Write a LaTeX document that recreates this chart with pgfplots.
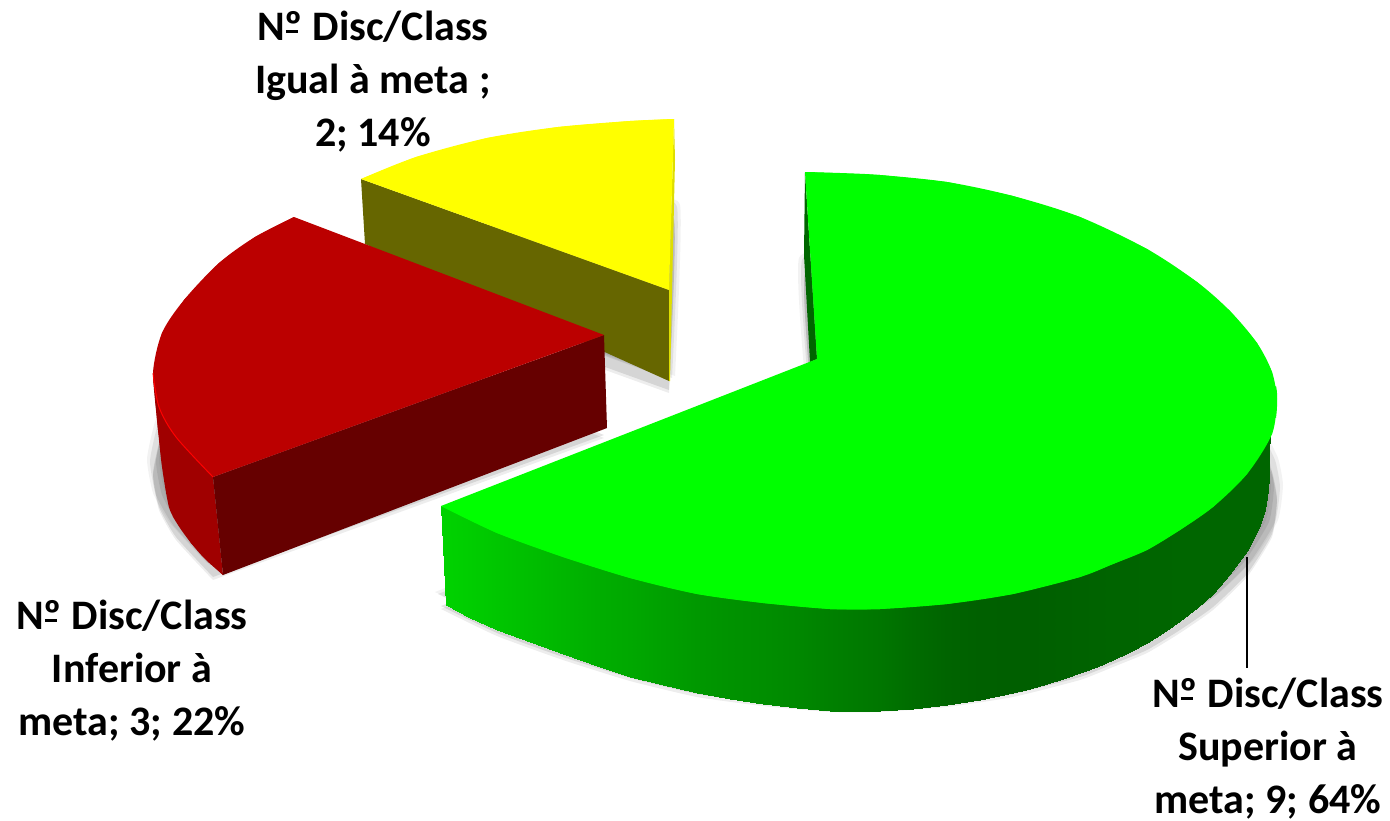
\documentclass[border=0pt]{standalone}
\usepackage{pgfplots}
\usepackage{pgfplotstable}
\usepackage{fontspec}
\setmainfont{Carlito}
\pgfplotsset{compat=1.18}
\definecolor{yy}{RGB}{255,255,0}
\definecolor{gg}{RGB}{0,255,0}
\definecolor{olv}{RGB}{102,102,0}
\definecolor{ysl}{RGB}{222,222,0}
\definecolor{rtop}{RGB}{187,0,0}
\definecolor{rside}{RGB}{160,0,0}
\definecolor{rdark}{RGB}{102,0,0}
\definecolor{gback}{RGB}{0,102,0}
% --- green top face: whole outline and its three arcs
\pgfplotstableread{
x y
817 359
805 172
880 175
947 182
1013 196
1080 217
1147 249
1197 282
1230 311
1257 343
1272 372
1277 399
1272 434
1247 474
1213 507
1180 530
1147 550
1113 564
1080 577
1013 594
947 604
880 609
830 609
763 603
697 594
630 578
563 557
497 533
441 506
}\greenface
\pgfplotstableread{
x y
805 172
840 173
880 175
947 182
1013 196
1080 217
1147 249
1197 282
1230 311
1257 343
1272 372
1277 399
1276 418
}\greenarcA
\pgfplotstableread{
x y
1276 386
1277 399
1272 434
1247 474
1213 507
1180 530
1147 550
1113 564
1080 577
1013 594
947 604
880 609
830 609
}\greenarcB
\pgfplotstableread{
x y
880 609
830 609
763 603
697 594
630 578
563 557
497 533
441 506
}\greenarcC
\pgfplotstableread{
x y c
441 506 210
446 605 210
470 512 205
470 618 205
497 525 198
497 630 198
530 538 190
530 642 190
563 549 182
563 654 182
597 560 174
597 666 174
630 570 168
630 677 168
663 578 160
663 685 160
697 586 152
697 693 152
730 591 146
730 699 146
763 595 142
763 704 142
797 599 136
797 708 136
830 601 128
830 711 128
880 601 118
880 711 118
913 599 108
913 709 108
947 596 100
947 705 100
980 592 96
980 700 96
1013 586 95
1013 693 95
1030 582 95
1030 689 95
1047 578 96
1047 684 96
1063 574 97
1063 679 97
1080 568 98
1080 673 98
1097 562 99
1097 667 99
1113 555 100
1113 660 100
1130 548 100
1130 652 100
1147 540 101
1147 643 101
1163 530 101
1163 633 101
1180 519 102
1180 621 102
1197 508 102
1197 608 102
1213 497 102
1213 594 102
1230 482 102
1230 574 102
1247 464 102
1247 551 102
1254 456 102
1254 538 102
1260 447 102
1260 525 102
1265 437 102
1265 510 102
1270 428 102
1268 490 102
1270 399 102
1269 476 102
}\greenside
\pgfplotstableread{
x y
805 172
817 359
810 362
804 255
}\greenback
% --- red slice
\pgfplotstableread{
x y
604 335
294 217
255 237
219 263
184 300
162 333
153 373
159 407
176 437
213 477
}\redface
\pgfplotstableread{
x y
294 217
255 237
219 263
184 300
162 333
153 373
159 407
176 437
213 477
}\redarc
\pgfplotstableread{
x y
153 373
154 390
158 430
162 467
169 507
178 525
191 543
205 559
223 575
}\redsidearc
\pgfplotstableread{
x y
153 373
158 430
169 507
191 543
223 575
213 477
}\redsidecore
\pgfplotstableread{
x y
604 335
607 428
223 575
213 477
}\reddark
\pgfplotstableread{
x y
153 373
159 407
176 437
213 477
}\rededge
% --- yellow slice
\pgfplotstableread{
x y
361 179
416 157
487 138
558 127
630 121
674 119
669 290
}\yellowface
\pgfplotstableread{
x y
361 179
416 157
487 138
558 127
630 121
674 119
}\yellowarc
\pgfplotstableread{
x y
361 179
669 290
669 381
365 244
}\yellowdark
\pgfplotstableread{
x y
674 119
675 160
670 381
669 381
669 290
}\yellowsliver
\pgfplotstableread{
x y
1247 557
1247 668
}\leader
\newcommand{\shadow}[1]{%
  \addplot[smooth,tension=.3,fill=black,draw=none,fill opacity=.07] table[x expr=\thisrow{x},y expr=\thisrow{y}+103] {#1};
  \addplot[smooth,tension=.3,fill=black,draw=none,fill opacity=.10] table[x expr=\thisrow{x},y expr=\thisrow{y}+100] {#1};
  \addplot[smooth,tension=.3,fill=black,draw=none,fill opacity=.05] table[x expr=\thisrow{x}-6,y expr=\thisrow{y}+86] {#1};
  \addplot[smooth,tension=.3,fill=black,draw=none,fill opacity=.08] table[x expr=\thisrow{x}-3,y expr=\thisrow{y}+88] {#1};
  \addplot[smooth,tension=.3,fill=black,draw=none,fill opacity=.05] table[x expr=\thisrow{x}+6,y expr=\thisrow{y}+86] {#1};
  \addplot[smooth,tension=.3,fill=black,draw=none,fill opacity=.08] table[x expr=\thisrow{x}+3,y expr=\thisrow{y}+88] {#1};
}
\newcommand{\Nr}{N\makebox[0pt][l]{\hspace{0.02em}\raisebox{0.19em}{\rule{0.3em}{0.065em}}}º}
\begin{document}
\begin{tikzpicture}
\begin{axis}[
  scale only axis, width=1390pt, height=820pt,
  xmin=0, xmax=1390, ymin=0, ymax=820, y dir=reverse,
  hide axis, clip=true,
  colormap={gmap}{rgb255=(0,0,0) rgb255=(0,255,0)},
  point meta min=0, point meta max=255,
]
\shadow{\yellowface}
\shadow{\redface}
\shadow{\greenface}
% yellow slice
\addplot[fill=olv,draw=none] table {\yellowdark};
\addplot[fill=ysl,draw=none] table {\yellowsliver};
\addplot[fill=yy,draw=none] table {\yellowface};
\addplot[smooth,fill=yy,draw=none] table {\yellowarc};
% red slice
\addplot[fill=rside,draw=none] table {\redsidecore};
\addplot[smooth,fill=rside,draw=none] table {\redsidearc};
\addplot[fill=rdark,draw=none] table {\reddark};
\addplot[fill=rtop,draw=none] table {\redface};
\addplot[smooth,fill=rtop,draw=none] table {\redarc};
\addplot[smooth,draw=red,line width=1pt] table {\rededge};
% green slice
\addplot[fill=gback,draw=none] table {\greenback};
\addplot[surf,shader=interp,mesh/cols=2,mesh/ordering=x varies,point meta=\thisrow{c}] table {\greenside};
\addplot[fill=gg,draw=none] table {\greenface};
\addplot[smooth,fill=gg,draw=none] table {\greenarcA};
\addplot[smooth,fill=gg,draw=none] table {\greenarcB};
\addplot[smooth,fill=gg,draw=none] table {\greenarcC};
\addplot[black,line width=1.3pt] table {\leader};
\node[font=\fontsize{42}{53}\selectfont\bfseries,align=center,anchor=center] at (axis cs:373,82) {\Nr{} Disc/Class\\Igual à meta ;\\2; 14\%};
\node[font=\fontsize{42}{53}\selectfont\bfseries,align=center,anchor=center] at (axis cs:132,671) {\Nr{} Disc/Class\\Inferior à\\meta; 3; 22\%};
\node[font=\fontsize{42}{53}\selectfont\bfseries,align=center,anchor=center] at (axis cs:1268,749) {\Nr{} Disc/Class\\Superior à\\meta; 9; 64\%};
\end{axis}
\useasboundingbox (current axis.south west) rectangle (current axis.north east);
\end{tikzpicture}
\end{document}
